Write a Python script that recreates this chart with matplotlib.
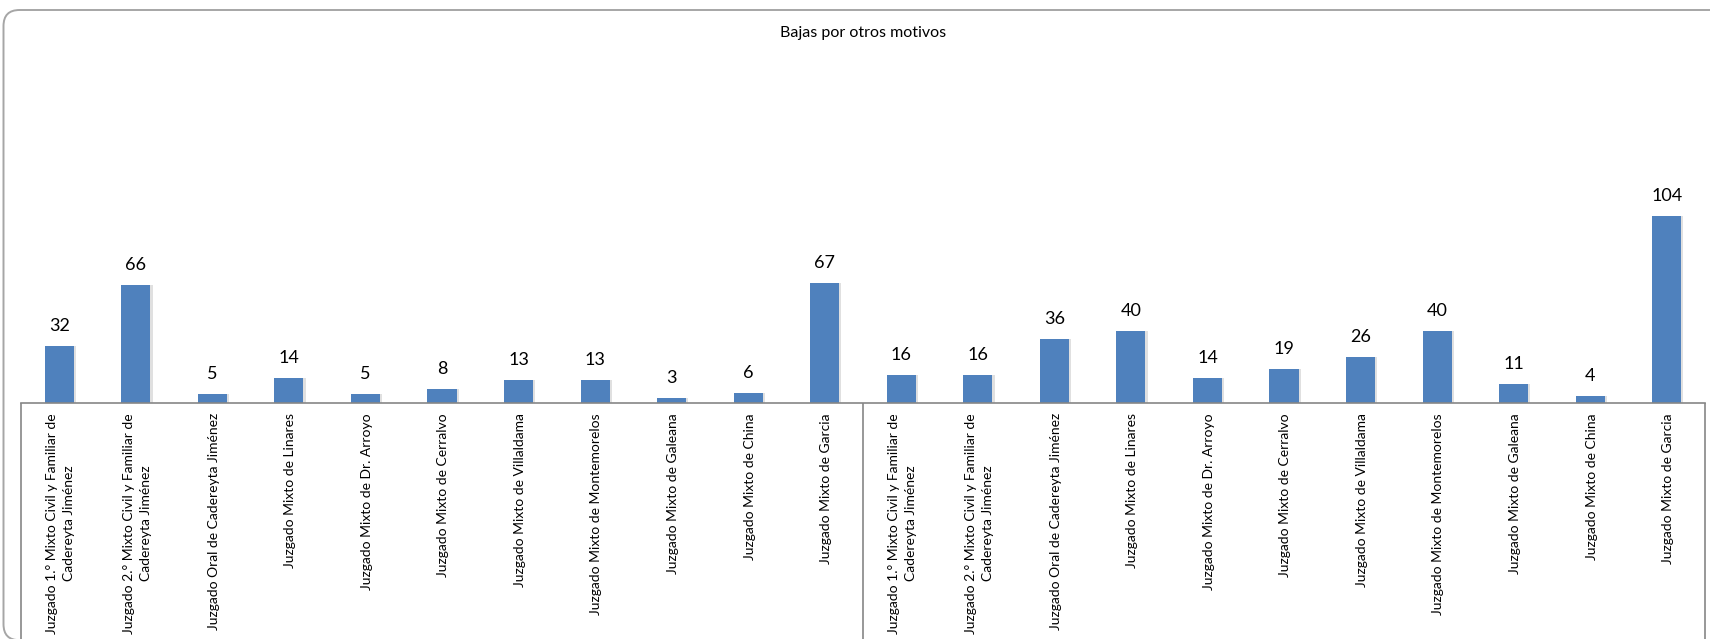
import matplotlib
matplotlib.use("Agg")
import matplotlib.pyplot as plt
from matplotlib.patches import FancyBboxPatch
import numpy as np

categories = [
    "Juzgado 1.° Mixto Civil y Familiar de\nCadereyta Jiménez",
    "Juzgado 2.° Mixto Civil y Familiar de\nCadereyta Jiménez",
    "Juzgado Oral de Cadereyta Jiménez",
    "Juzgado Mixto de Linares",
    "Juzgado Mixto de Dr. Arroyo",
    "Juzgado Mixto de Cerralvo",
    "Juzgado Mixto de Villaldama",
    "Juzgado Mixto de Montemorelos",
    "Juzgado Mixto de Galeana",
    "Juzgado Mixto de China",
    "Juzgado Mixto de Garcia",
]
group1_values = [32, 66, 5, 14, 5, 8, 13, 13, 3, 6, 67]
group2_values = [16, 16, 36, 40, 14, 19, 26, 40, 11, 4, 104]
title = "Bajas por otros motivos"

labels = categories + categories
values = group1_values + group2_values

W, H, DPI = 1710, 639, 100
fig = plt.figure(figsize=(W / DPI, H / DPI), dpi=DPI)
plt.rcParams['font.family'] = ['Lato', 'DejaVu Sans']

# outer rounded frame (figure pixel coords), bottom/right run off the image
frame = FancyBboxPatch((3.5, -1.2), W + 30, H - 10 + 1.2, boxstyle="round,pad=0,rounding_size=16",
                       transform=None, fill=False, edgecolor="#a6a6a6", linewidth=1.4)
fig.patches.append(frame)

left_px, right_px = 21, 1705
base_px, top_px = 403.3, 187.3
ax = fig.add_axes([left_px / W, (H - base_px) / H, (right_px - left_px) / W, (base_px - top_px) / H])
ax.set_facecolor("none")

x = np.arange(len(values))
bw = 0.38
shadow_dx = 2.2 / ((right_px - left_px) / len(values))
ax.bar(x + shadow_dx, values, width=bw, color="#d4d4d4", alpha=0.7, zorder=1)
ax.bar(x, values, width=bw, color="#4f81bd", zorder=2)

ax.set_xlim(-0.5, len(values) - 0.5)
ax.set_ylim(0, 120)
for s in ax.spines.values():
    s.set_visible(False)
ax.set_yticks([])
ax.set_xticks([])

for xi, v in zip(x, values):
    ax.annotate(str(v), (xi, v), xytext=(0, 8.5), textcoords="offset points",
                ha="center", va="bottom", fontsize=13, color="#000000")

# baseline and vertical separators running below
ax.axhline(0, color="#868686", linewidth=1.2, zorder=3, clip_on=False)
ax.vlines([-0.5, len(categories) - 0.5, len(values) - 0.5], -500, 0, colors="#868686",
          linewidth=1.2, clip_on=False, zorder=3)

# category labels
for xi, lab in zip(x, labels):
    ax.annotate(lab, (xi, 0), xytext=(1, -7), textcoords="offset points",
                rotation=90, ha="center", va="top", fontsize=10,
                multialignment="center", linespacing=1.5, color="#000000")

fig.text((left_px + right_px) / 2 / W, 1 - 33 / H, title, ha="center", va="center",
         fontsize=11.5, color="#000000")

fig.savefig("out.png", dpi=DPI)
